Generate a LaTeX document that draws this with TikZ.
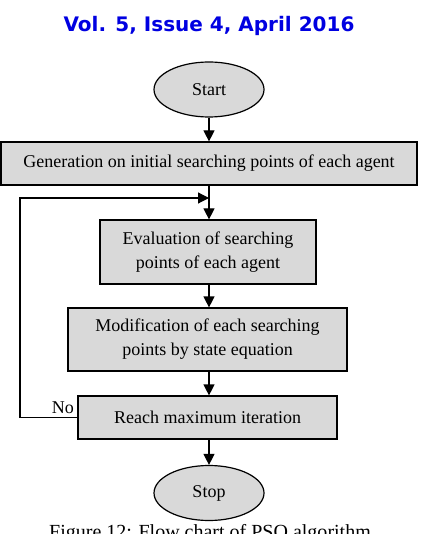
\documentclass[tikz,border=0pt]{standalone}
\usepackage{fontspec}
\setmainfont{Liberation Serif}
\newfontfamily\titlefont{DejaVu Sans}
\usetikzlibrary{shapes.geometric,arrows.meta}
\definecolor{boxgray}{RGB}{217,217,217}
\definecolor{titleblue}{RGB}{0,0,225}
\tikzset{
    stepbox/.style={draw, line width=1.2pt, fill=boxgray, rectangle, inner sep=0pt, align=center},
    term/.style={draw, line width=1.2pt, fill=boxgray, ellipse, inner sep=0pt, minimum width=110pt, minimum height=55pt},
    flow/.style={line width=1.2pt, -{Triangle[length=11pt,width=11pt]}}
}
\begin{document}
\begin{tikzpicture}[x=1pt, y=-1pt, font=\fontsize{18}{24}\selectfont]
        \clip (0,0) rectangle (424,534);

        % journal heading
        \node[text=titleblue, font=\titlefont\bfseries\fontsize{20}{24}\selectfont] (head) at (209,26) {Vol. 5, Issue 4, April 2016};

        % terminals
        \node[term] (start) at (209,89.5) {Start};
        \node[term] (stop) at (209,493) {Stop};

        % process boxes
        \node[stepbox, minimum width=416pt, minimum height=43pt] (gen) at (209,163.5) {Generation on initial searching points of each agent};
        \node[stepbox, minimum width=216pt, minimum height=64pt] (eval) at (208,252) {Evaluation of searching\\points of each agent};
        \node[stepbox, minimum width=279pt, minimum height=63pt] (modif) at (207.5,339.5) {Modification of each searching\\points by state equation};
        \node[stepbox, minimum width=259pt, minimum height=43pt] (reach) at (207.5,417.5) {Reach maximum iteration};

        % main flow
        \draw[flow] (start) -- (start |- gen.north);
        \draw[flow] (gen.south -| start) -- (eval.north -| start);
        \draw[flow] (eval.south -| start) -- (modif.north -| start);
        \draw[flow] (modif.south -| start) -- (reach.north -| start);
        \draw[flow] (reach.south -| start) -- (stop);

        % loop back when not done
        \coordinate (back) at (20,198);
        \coordinate (merge) at (start |- back);
        \draw[flow] (reach.west) -| (back) -- (merge);
        \node[left] (no) at (reach.west |- 0,408) {No};

        % caption (cut at the bottom edge, as in the source page)
        \node[anchor=base, font=\fontsize{20}{24}\selectfont] (cap) at (210,538) {Figure 12: Flow chart of PSO algorithm};
    \end{tikzpicture}
\end{document}
